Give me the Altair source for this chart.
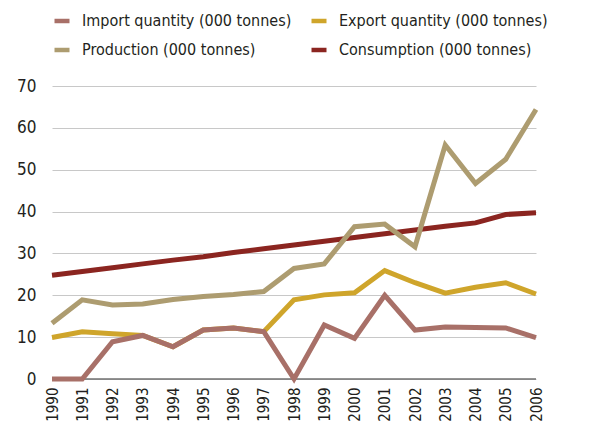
import altair as alt
import pandas as pd

years = list(range(1990, 2007))
import_qty = [0, 0, 8.9, 10.4, 7.7, 11.7, 12.2, 11.3, 0, 12.9, 9.7, 20.0, 11.7, 12.4, 12.3, 12.2, 9.9]
export_qty = [9.9, 11.3, 10.8, 10.4, 7.7, 11.7, 12.2, 11.3, 18.9, 20.1, 20.6, 25.9, 23.0, 20.5, 21.9, 23.0, 20.3]
production = [13.3, 18.9, 17.7, 17.9, 19.0, 19.7, 20.2, 20.9, 26.4, 27.5, 36.4, 37.0, 31.6, 55.9, 46.7, 52.5, 64.4]
consumption = [24.8, 25.7, 26.6, 27.5, 28.4, 29.2, 30.2, 31.1, 32.0, 32.9, 33.8, 34.7, 35.6, 36.5, 37.3, 39.3, 39.7]

series_names = [
    "Import quantity (000 tonnes)",
    "Production (000 tonnes)",
    "Export quantity (000 tonnes)",
    "Consumption (000 tonnes)",
]
series_colors = ["#A87068", "#AD9C70", "#CFA52B", "#8B2520"]

# drawing order: consumption, production, export, import (import on top)
draw = [
    ("Consumption (000 tonnes)", consumption),
    ("Production (000 tonnes)", production),
    ("Export quantity (000 tonnes)", export_qty),
    ("Import quantity (000 tonnes)", import_qty),
]
rows = []
for name, vals in draw:
    for y, v in zip(years, vals):
        rows.append({"Year": str(y), "Value": v, "Series": name})
df = pd.DataFrame(rows)

FONT = "DejaVu Sans Condensed, Roboto Condensed, Roboto, sans-serif"

chart = alt.Chart(df).mark_line(strokeWidth=5, strokeJoin="miter", strokeCap="butt").encode(
    x=alt.X("Year:O", scale=alt.Scale(type="point", padding=0), title=None,
            axis=alt.Axis(labelAngle=-90, labelFontSize=15, labelPadding=8, ticks=False,
                          domain=False, grid=False, labelColor="#231F20", labelFont=FONT,
                          labelBaseline="middle", labelAlign="right")),
    y=alt.Y("Value:Q", scale=alt.Scale(domain=[0, 70], nice=False), title=None,
            axis=alt.Axis(values=[0, 10, 20, 30, 40, 50, 60, 70], labelFontSize=17,
                          labelPadding=16, ticks=False, domain=False, gridColor="#C8C8C8",
                          gridWidth=1, labelColor="#231F20", labelFont=FONT)),
    color=alt.Color("Series:N", scale=alt.Scale(domain=series_names, range=series_colors),
                    legend=alt.Legend(title=None, orient="none", legendX=0, legendY=-75,
                                      columns=2, columnPadding=10, rowPadding=10,
                                      symbolType="stroke", symbolStrokeWidth=4.5,
                                      symbolSize=225, labelFontSize=16, labelFont=FONT,
                                      labelColor="#231F20", labelOffset=10, labelLimit=400)),
)

zero_rule = alt.Chart(pd.DataFrame({"v": [0]})).mark_rule(color="#707070", strokeWidth=1.5).encode(
    y=alt.Y("v:Q", scale=alt.Scale(domain=[0, 70], nice=False))
)

final = alt.layer(zero_rule, chart).properties(
    width=484, height=293,
    autosize=alt.AutoSizeParams(type="none"),
    padding={"left": 44, "top": 78, "right": 62, "bottom": 44},
).configure_view(stroke=None)

final.save("out.html", embed_options={"renderer": "svg", "actions": False})
